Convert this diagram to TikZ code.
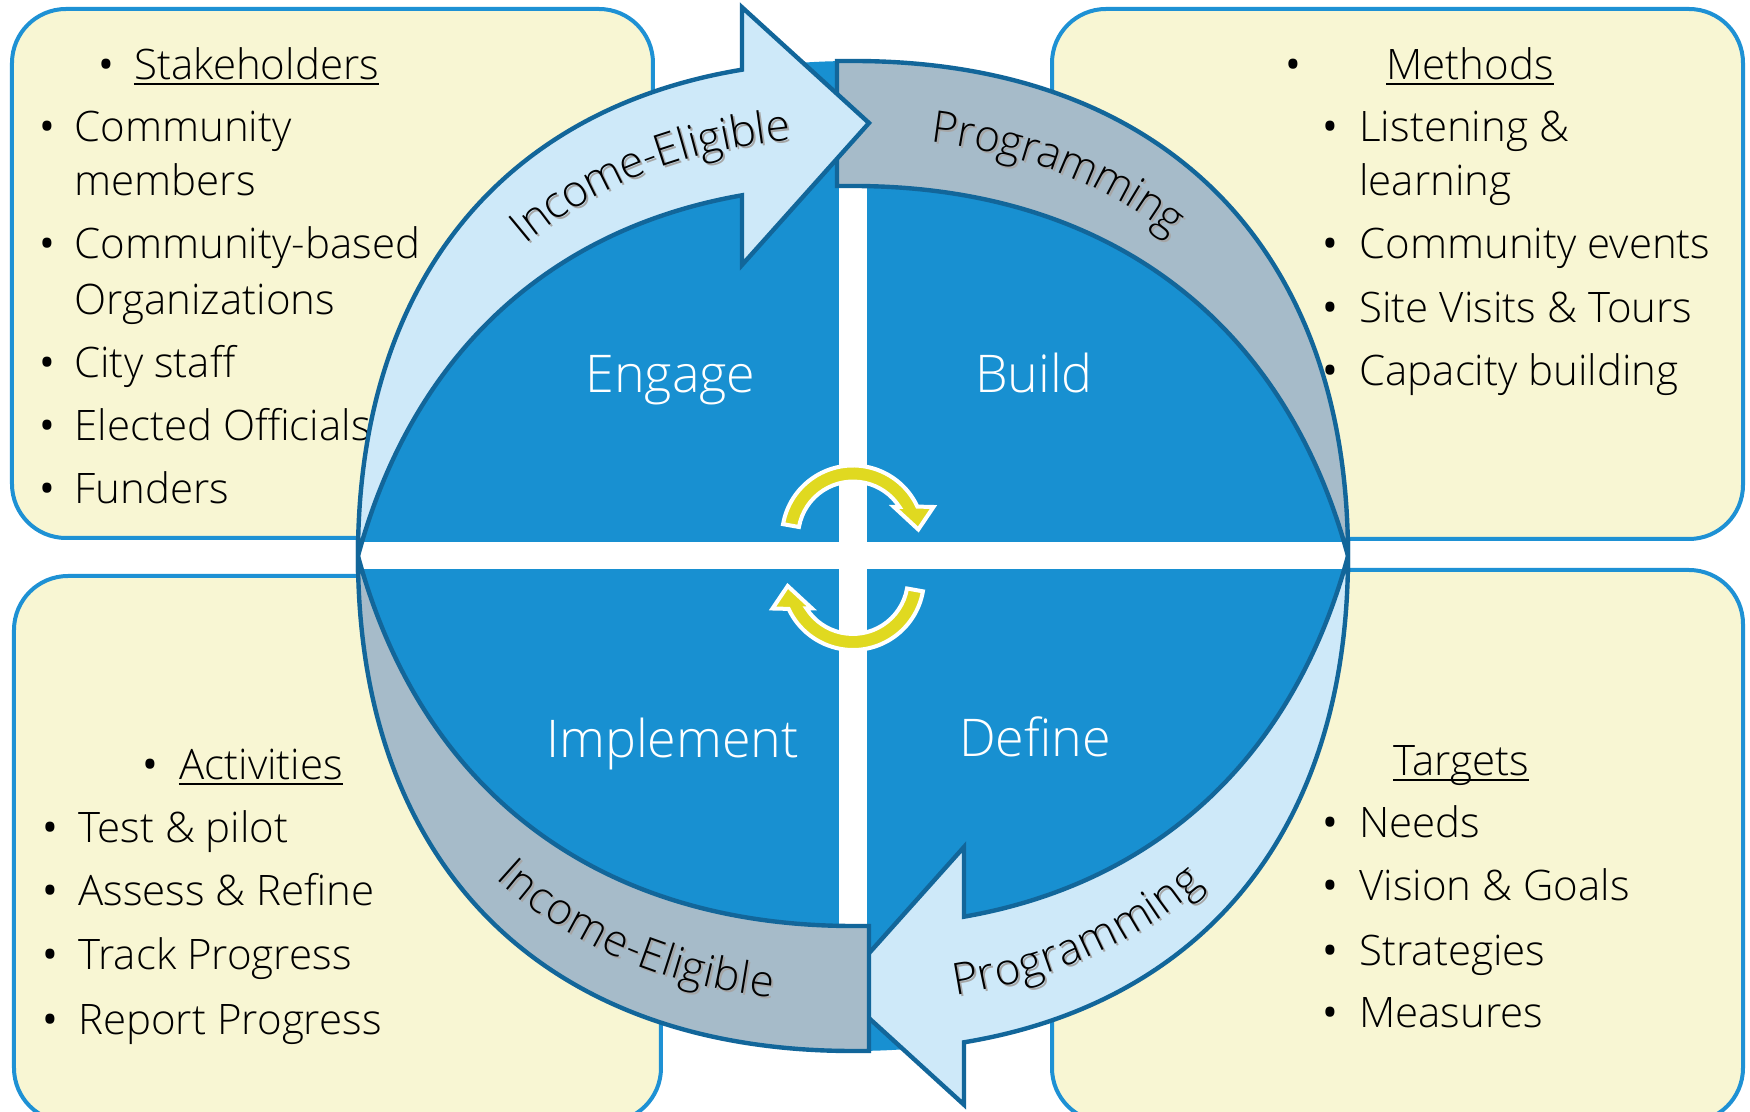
\documentclass[tikz,border=0pt]{standalone}
\usepackage{fontspec}
\setmainfont{Open Sans}[UprightFont={* Light}]
\newfontfamily\bulfont{Open Sans}
\usetikzlibrary{decorations.text}
\definecolor{diskblue}{RGB}{24,144,209}
\definecolor{boxfill}{RGB}{248,246,211}
\definecolor{boxline}{RGB}{30,145,212}
\definecolor{lightarrow}{RGB}{206,233,249}
\definecolor{grayband}{RGB}{166,187,201}
\definecolor{bandline}{RGB}{18,102,154}
\definecolor{yel}{RGB}{224,217,32}
\newcommand{\curvefont}{\fontsize{22}{26}\selectfont}
\newcommand{\bandtext}[3]{%
  \path[shift={(2,-2)},decorate,decoration={text along path,raise=-7pt,text align={left indent=#2},text={|\curvefont\color{black!35}|#3}}] #1;
  \path[decorate,decoration={text along path,raise=-7pt,text align={left indent=#2},text={|\curvefont\color{black}|#3}}] #1;
}
\begin{document}
\begin{tikzpicture}[x=0.5pt,y=0.5pt,
  infobox/.style={fill=boxfill,draw=boxline,line width=2pt,rounded corners=27pt},
  body/.style={inner sep=0pt,anchor=base west,font=\fontsize{21}{24}\selectfont,text=black},
  bul/.style={inner sep=0pt,anchor=base,font=\bulfont\fontsize{21}{24}\selectfont,text=black},
  quad/.style={inner sep=0pt,anchor=base,font=\fontsize{26}{30}\selectfont,text=white},
  band/.style={draw=bandline,line width=2.2pt},
  ulined/.style={line width=1pt,black},
  yarrow/.style={fill=yel,draw=white,line width=2pt}
]
\useasboundingbox (-853,-556) rectangle (897,556);
\clip (-853,-556) rectangle (897,556);
\fill[white] (-853,-556) rectangle (897,556);

% ---------- boxes ----------
\draw[infobox] (-841,18) rectangle (-200,547);
\draw[infobox] (199,17) rectangle (890,547);
\draw[infobox] (-839,-566) rectangle (-192,-20);
\draw[infobox] (199,-566) rectangle (890,-14);

% top-left texts
\node[bul] (b0) at (-747,476) {•};
\node[body] (stake) at (-719,476) {Stakeholders};
\draw[ulined] ([yshift=-2.1pt]stake.base west) -- ([yshift=-2.1pt]stake.base east);
\node[bul] (b1) at (-806,414) {•};
\node[body] (t1) at (-779,414) {Community};
\node[body] (t1b) at (-779,360) {members};
\node[bul] (b2) at (-806,297) {•};
\node[body] (t2) at (-779,297) {Community-based};
\node[body] (t2b) at (-779,241) {Organizations};
\node[bul] (b3) at (-806,178) {•};
\node[body] (t3) at (-779,178) {City staff};
\node[bul] (b4) at (-806,115) {•};
\node[body] (t4) at (-779,115) {Elected Officials};
\node[bul] (b5) at (-806,52) {•};
\node[body] (t5) at (-779,52) {Funders};

% top-right texts
\node[bul] (m0) at (440,476) {•};
\node[body] (meth) at (533,476) {Methods};
\draw[ulined] ([yshift=-2.1pt]meth.base west) -- ([yshift=-2.1pt]meth.base east);
\node[bul] (m1) at (477,414) {•};
\node[body] (u1) at (506,414) {Listening \&};
\node[body] (u1b) at (506,360) {learning};
\node[bul] (m2) at (477,297) {•};
\node[body] (u2) at (506,297) {Community events};
\node[bul] (m3) at (477,233) {•};
\node[body] (u3) at (506,233) {Site Visits \& Tours};
\node[bul] (m4) at (477,170) {•};
\node[body] (u4) at (506,170) {Capacity building};

% bottom-left texts
\node[bul] (a0) at (-703,-224) {•};
\node[body] (act) at (-674,-224) {Activities};
\draw[ulined] ([yshift=-2.1pt]act.base west) -- ([yshift=-2.1pt]act.base east);
\node[bul] (a1) at (-803,-287) {•};
\node[body] (v1) at (-775,-287) {Test \& pilot};
\node[bul] (a2) at (-803,-350) {•};
\node[body] (v2) at (-775,-350) {Assess \& Refine};
\node[bul] (a3) at (-803,-414) {•};
\node[body] (v3) at (-775,-414) {Track Progress};
\node[bul] (a4) at (-803,-478) {•};
\node[body] (v4) at (-775,-478) {Report Progress};

% bottom-right texts
\node[body] (targ) at (540,-220) {Targets};
\draw[ulined] ([yshift=-2.1pt]targ.base west) -- ([yshift=-2.1pt]targ.base east);
\node[bul] (g1) at (477,-282) {•};
\node[body] (w1) at (506,-282) {Needs};
\node[bul] (g2) at (477,-345) {•};
\node[body] (w2) at (506,-345) {Vision \& Goals};
\node[bul] (g3) at (477,-409) {•};
\node[body] (w3) at (506,-409) {Strategies};
\node[bul] (g4) at (477,-472) {•};
\node[body] (w4) at (506,-472) {Measures};

% ---------- central disk ----------
\def\diskpath{(-495,0) .. controls (-495,309.4) and (-309.4,495) .. (0,495) .. controls (309.4,495) and (495,309.4) .. (495,0) .. controls (495,-309.4) and (309.4,-495) .. (0,-495) .. controls (-309.4,-495) and (-495,-309.4) .. (-495,0) -- cycle}
\fill[diskblue] \diskpath;
\begin{scope}
  \clip \diskpath;
  \fill[white] (-14,-600) rectangle (14,600);
  \fill[white] (-600,-13) rectangle (600,14);
\end{scope}

% ---------- bands and arrows ----------
\begin{scope}[rotate=180]
  \filldraw[band,fill=lightarrow] (-495,0) .. controls (-495,270.4) and (-353.2,446.3) .. (-111,486.3) -- (-111,548.7) -- (16,433) -- (-111,291) -- (-111,360.7) .. controls (-303.0,327.1) and (-440.1,202.8) .. (-495,0) -- cycle;
  \filldraw[band,fill=grayband] (-16,370) -- (-16,495) -- (0,495) .. controls (309.4,495) and (495,309.4) .. (495,0) .. controls (430,240) and (250,370) .. (0,370) -- cycle;
\end{scope}
\filldraw[band,fill=grayband] (-16,370) -- (-16,495) -- (0,495) .. controls (309.4,495) and (495,309.4) .. (495,0) .. controls (430,240) and (250,370) .. (0,370) -- cycle;
\filldraw[band,fill=lightarrow] (-495,0) .. controls (-495,270.4) and (-353.2,446.3) .. (-111,486.3) -- (-111,548.7) -- (16,433) -- (-111,291) -- (-111,360.7) .. controls (-303.0,327.1) and (-440.1,202.8) .. (-495,0) -- cycle;

% ---------- curved texts ----------
\bandtext{(-495,0) .. controls (-462.5,274.7) and (-279.7,432.5) .. (0,432.5)}{184pt}{Income-Eligible}
\bandtext{(0,432.5) .. controls (279.7,432.5) and (462.5,274.7) .. (495,0)}{40pt}{Programming}
\bandtext{(-495,0) .. controls (-462.5,-274.7) and (-279.7,-432.5) .. (0,-432.5)}{176pt}{Income-Eligible}
\bandtext{(0,-432.5) .. controls (279.7,-432.5) and (462.5,-274.7) .. (495,0)}{50pt}{Programming}

% ---------- yellow cycle arrows ----------
\begin{scope}[shift={(0,19.5)}]
  \filldraw[yarrow] (170:71) arc[start angle=170,end angle=24.9,radius=71] -- (80.5,29.5) -- (65.3,7) -- (41,29.5) -- (46.5,29.5) arc[start angle=32.5,end angle=170,radius=55] -- cycle;
\end{scope}
\begin{scope}[shift={(0,-23)},rotate=180]
  \filldraw[yarrow] (170:71) arc[start angle=170,end angle=24.9,radius=71] -- (80.5,29.5) -- (65.3,7) -- (41,29.5) -- (46.5,29.5) arc[start angle=32.5,end angle=170,radius=55] -- cycle;
\end{scope}

% ---------- quadrant labels ----------
\node[quad] (engage) at (-182.5,163) {Engage};
\node[quad] (build) at (181,163) {Build};
\node[quad] (implement) at (-180.5,-202) {Implement};
\node[quad] (define) at (182,-201) {Define};
\end{tikzpicture}
\end{document}
